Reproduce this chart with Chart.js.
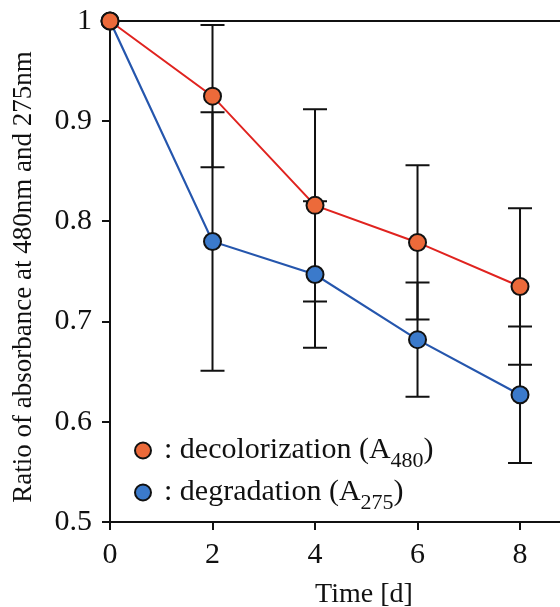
<!DOCTYPE html>
<html>
<head>
<meta charset="utf-8">
<script src="https://cdn.jsdelivr.net/npm/chart.js@4.4.0/dist/chart.umd.min.js"></script>
<style>
  html, body { margin: 0; padding: 0; background: #fff; }
  #wrap { width: 560px; height: 607px; }
</style>
</head>
<body>
<div id="wrap"><canvas id="c" width="560" height="607"></canvas></div>
<script>
// ---- data ----
const days = [0, 2, 4, 6, 8];
const decolorization = [1.0, 0.925, 0.816, 0.779, 0.735];
const decolorizationErr = [0, 0.071, 0.096, 0.077, 0.078];
const degradation = [1.0, 0.780, 0.747, 0.682, 0.627];
const degradationErr = [0, 0.129, 0.073, 0.057, 0.068];
const xTicks = [0, 2, 4, 6, 8];
const yTicks = [0.5, 0.6, 0.7, 0.8, 0.9, 1];
const xTitle = 'Time [d]';
const yTitle = 'Ratio of absorbance at 480nm and 275nm';
const legendLabels = [
  { main: ': decolorization (A', sub: '480', tail: ')' },
  { main: ': degradation (A', sub: '275', tail: ')' }
];

const SERIF = '"Liberation Serif", "DejaVu Serif", serif';
const ORANGE_FILL = '#ec6a3a';
const RED_LINE = '#e0231f';
const BLUE_FILL = '#3b7acb';
const BLUE_LINE = '#2556ad';
const INK = '#111';

const toPts = (ys) => days.map((d, i) => ({ x: d, y: ys[i] }));

const errorBars = {
  id: 'errorBars',
  beforeDatasetsDraw(chart) {
    const { ctx, scales: { x, y }, chartArea } = chart;
    ctx.save();
    ctx.strokeStyle = INK;
    ctx.lineWidth = 2;
    // top frame line
    ctx.beginPath();
    ctx.moveTo(chartArea.left, chartArea.top);
    ctx.lineTo(chartArea.right, chartArea.top);
    ctx.stroke();
    chart.data.datasets.forEach((ds) => {
      const errs = ds.errors || [];
      ds.data.forEach((p, i) => {
        const e = errs[i];
        if (!e) return;
        const px = x.getPixelForValue(p.x);
        const yt = y.getPixelForValue(p.y + e);
        const yb = y.getPixelForValue(p.y - e);
        ctx.beginPath();
        ctx.moveTo(px, yt); ctx.lineTo(px, yb);
        ctx.moveTo(px - 12, yt); ctx.lineTo(px + 12, yt);
        ctx.moveTo(px - 12, yb); ctx.lineTo(px + 12, yb);
        ctx.stroke();
      });
    });
    ctx.restore();
  }
};

const textLayer = {
  id: 'textLayer',
  afterDraw(chart) {
    const { ctx } = chart;
    ctx.save();
    ctx.fillStyle = INK;
    // axis titles
    ctx.font = '28px ' + SERIF;
    ctx.textAlign = 'center';
    ctx.textBaseline = 'alphabetic';
    ctx.fillText(xTitle, 364, 602);
    ctx.save();
    ctx.translate(31, 277);
    ctx.rotate(-Math.PI / 2);
    ctx.font = '27px ' + SERIF;
    ctx.fillText(yTitle, 0, 0);
    ctx.restore();
    // legend
    const items = [
      { fill: ORANGE_FILL, cy: 450.5, base: 458 },
      { fill: BLUE_FILL, cy: 492.5, base: 500 }
    ];
    items.forEach((it, i) => {
      ctx.beginPath();
      ctx.arc(143, it.cy, 8, 0, Math.PI * 2);
      ctx.fillStyle = it.fill;
      ctx.fill();
      ctx.lineWidth = 2;
      ctx.strokeStyle = INK;
      ctx.stroke();
      const lab = legendLabels[i];
      let tx = 164;
      ctx.fillStyle = INK;
      ctx.textAlign = 'left';
      ctx.textBaseline = 'alphabetic';
      ctx.font = '30px ' + SERIF;
      ctx.fillText(lab.main, tx, it.base);
      tx += ctx.measureText(lab.main).width;
      ctx.font = '22px ' + SERIF;
      ctx.fillText(lab.sub, tx, it.base + 9);
      tx += ctx.measureText(lab.sub).width;
      ctx.font = '30px ' + SERIF;
      ctx.fillText(lab.tail, tx, it.base);
    });
    ctx.restore();
  }
};

new Chart(document.getElementById('c'), {
  type: 'line',
  data: {
    datasets: [
      {
        label: 'decolorization (A480)',
        data: toPts(decolorization),
        errors: decolorizationErr,
        borderColor: RED_LINE,
        backgroundColor: ORANGE_FILL,
        pointBackgroundColor: ORANGE_FILL,
        pointBorderColor: INK,
        pointBorderWidth: 2,
        pointRadius: 8.5,
        borderWidth: 2,
        tension: 0
      },
      {
        label: 'degradation (A275)',
        data: toPts(degradation),
        errors: degradationErr,
        borderColor: BLUE_LINE,
        backgroundColor: BLUE_FILL,
        pointBackgroundColor: BLUE_FILL,
        pointBorderColor: INK,
        pointBorderWidth: 2,
        pointRadius: 8.5,
        borderWidth: 2.2,
        tension: 0
      }
    ]
  },
  options: {
    responsive: false,
    animation: false,
    clip: false,
    layout: { autoPadding: false, padding: { top: 21, right: 0, left: 0, bottom: 0 } },
    plugins: { legend: { display: false }, tooltip: { enabled: false } },
    scales: {
      x: {
        type: 'linear',
        min: 0,
        max: 8.78,
        afterBuildTicks: (s) => { s.ticks = xTicks.map(v => ({ value: v })); },
        afterFit: (s) => { s.height = 85; s.paddingLeft = 0; s.paddingRight = 0; },
        border: { display: true, color: INK, width: 2 },
        grid: { display: true, drawOnChartArea: false, drawTicks: true, tickLength: 8, color: INK, lineWidth: 2 },
        ticks: { color: INK, font: { family: SERIF, size: 30 }, padding: 7, maxRotation: 0 }
      },
      y: {
        type: 'linear',
        min: 0.5,
        max: 1,
        afterBuildTicks: (s) => { s.ticks = yTicks.map(v => ({ value: v })); },
        afterFit: (s) => { s.width = 110; s.paddingTop = 0; s.paddingBottom = 0; },
        border: { display: true, color: INK, width: 2 },
        grid: { display: true, drawOnChartArea: false, drawTicks: true, tickLength: 8, color: INK, lineWidth: 2 },
        ticks: { color: INK, font: { family: SERIF, size: 30 }, padding: 10, callback: (v) => String(v) }
      }
    }
  },
  plugins: [errorBars, textLayer]
});
</script>
</body>
</html>
